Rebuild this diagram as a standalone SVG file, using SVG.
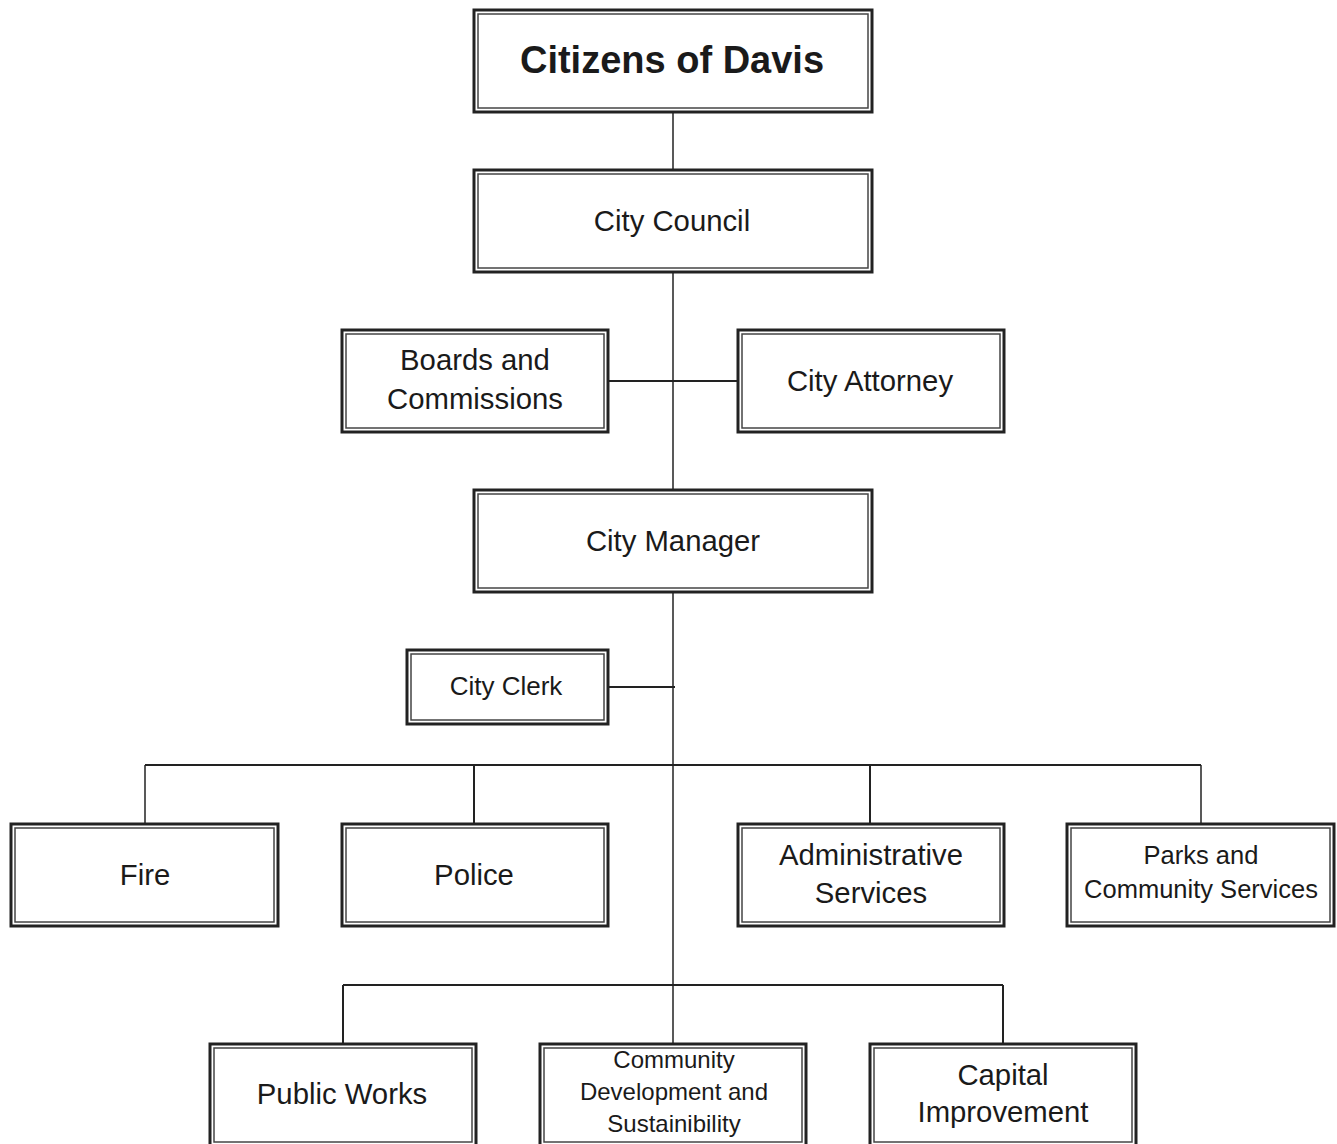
<svg xmlns="http://www.w3.org/2000/svg" width="1337" height="1144" viewBox="0 0 1337 1144">
<style>
.o{fill:#fff;stroke:#222;stroke-width:3}
.i{fill:none;stroke:#444;stroke-width:1.5}
.t{font-family:"Liberation Sans",Arial,sans-serif;fill:#1a1a1a;text-anchor:middle}
.m{font-size:29.3px}
.c{stroke:#222;fill:none}
</style>
<rect width="1337" height="1144" fill="#fff"/>
<g id="connectors">
<line class="c" x1="673" y1="113" x2="673" y2="1043" stroke-width="1.5"/>
<line class="c" x1="609" y1="381" x2="737" y2="381" stroke-width="2"/>
<line class="c" x1="609" y1="687" x2="675" y2="687" stroke-width="2"/>
<line class="c" x1="145" y1="765" x2="1201" y2="765" stroke-width="2"/>
<line class="c" x1="145" y1="765" x2="145" y2="823" stroke-width="1.5"/>
<line class="c" x1="474" y1="765" x2="474" y2="823" stroke-width="2"/>
<line class="c" x1="870" y1="765" x2="870" y2="823" stroke-width="2"/>
<line class="c" x1="1201" y1="765" x2="1201" y2="823" stroke-width="1.5"/>
<line class="c" x1="343" y1="985" x2="1003" y2="985" stroke-width="2"/>
<line class="c" x1="343" y1="985" x2="343" y2="1043" stroke-width="2"/>
<line class="c" x1="1003" y1="985" x2="1003" y2="1043" stroke-width="2"/>
</g>
<g id="citizens">
<rect class="o" x="474" y="10" width="398" height="102"/>
<rect class="i" x="478" y="14" width="390" height="94"/>
<text class="t" x="672" y="73" font-size="38" font-weight="bold">Citizens of Davis</text>
</g>
<g id="council">
<rect class="o" x="474" y="170" width="398" height="102"/>
<rect class="i" x="478" y="174" width="390" height="94"/>
<text class="t m" x="672" y="231">City Council</text>
</g>
<g id="boards">
<rect class="o" x="342" y="330" width="266" height="102"/>
<rect class="i" x="346" y="334" width="258" height="94"/>
<text class="t m" x="475" y="370">Boards and</text>
<text class="t m" x="475" y="409">Commissions</text>
</g>
<g id="attorney">
<rect class="o" x="738" y="330" width="266" height="102"/>
<rect class="i" x="742" y="334" width="258" height="94"/>
<text class="t m" x="870" y="391">City Attorney</text>
</g>
<g id="manager">
<rect class="o" x="474" y="490" width="398" height="102"/>
<rect class="i" x="478" y="494" width="390" height="94"/>
<text class="t m" x="673" y="551">City Manager</text>
</g>
<g id="clerk">
<rect class="o" x="407" y="650" width="201" height="74"/>
<rect class="i" x="411" y="654" width="193" height="66"/>
<text class="t" x="506" y="695" font-size="26">City Clerk</text>
</g>
<g id="fire">
<rect class="o" x="11" y="824" width="267" height="102"/>
<rect class="i" x="15" y="828" width="259" height="94"/>
<text class="t m" x="145" y="885">Fire</text>
</g>
<g id="police">
<rect class="o" x="342" y="824" width="266" height="102"/>
<rect class="i" x="346" y="828" width="258" height="94"/>
<text class="t m" x="474" y="885">Police</text>
</g>
<g id="admin">
<rect class="o" x="738" y="824" width="266" height="102"/>
<rect class="i" x="742" y="828" width="258" height="94"/>
<text class="t m" x="871" y="865">Administrative</text>
<text class="t m" x="871" y="903">Services</text>
</g>
<g id="parks">
<rect class="o" x="1067" y="824" width="267" height="102"/>
<rect class="i" x="1071" y="828" width="259" height="94"/>
<text class="t" x="1201" y="864" font-size="25.5">Parks and</text>
<text class="t" x="1201" y="898" font-size="25.5">Community Services</text>
</g>
<g id="publicworks">
<rect class="o" x="210" y="1044" width="266" height="102"/>
<rect class="i" x="214" y="1048" width="258" height="94"/>
<text class="t m" x="342" y="1104">Public Works</text>
</g>
<g id="communitydev">
<rect class="o" x="540" y="1044" width="266" height="102"/>
<rect class="i" x="544" y="1048" width="258" height="94"/>
<text class="t" x="674" y="1068" font-size="24">Community</text>
<text class="t" x="674" y="1100" font-size="24">Development and</text>
<text class="t" x="674" y="1132" font-size="24">Sustainibility</text>
</g>
<g id="capital">
<rect class="o" x="870" y="1044" width="266" height="102"/>
<rect class="i" x="874" y="1048" width="258" height="94"/>
<text class="t m" x="1003" y="1085">Capital</text>
<text class="t m" x="1003" y="1122">Improvement</text>
</g>
</svg>
